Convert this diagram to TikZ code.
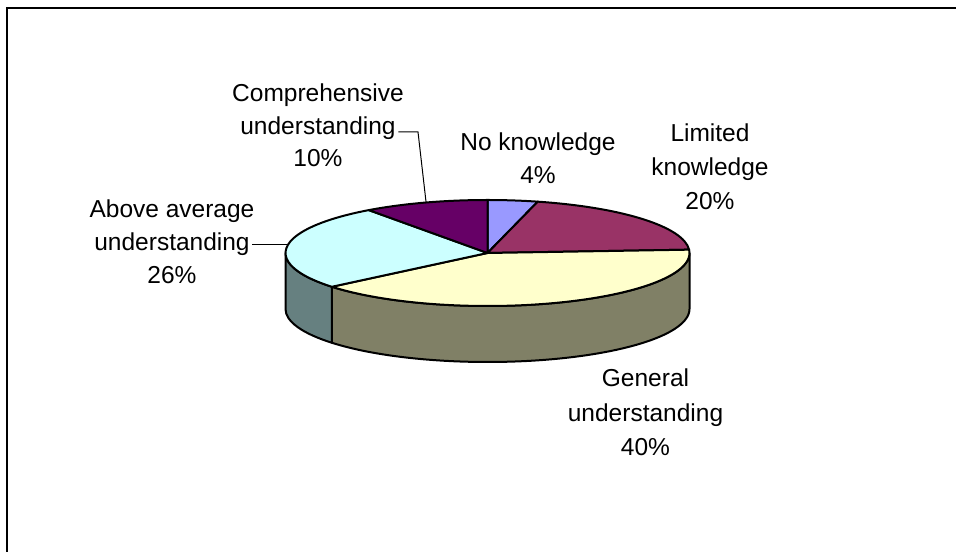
\documentclass[tikz,border=0pt]{standalone}
\usepackage{fontspec}
\setmainfont{Liberation Sans}
\usetikzlibrary{calc}
\definecolor{cNo}{HTML}{9999FF}
\definecolor{cLim}{HTML}{993366}
\definecolor{cGen}{HTML}{FFFFCC}
\definecolor{cGenS}{HTML}{808066}
\definecolor{cAbv}{HTML}{CCFFFF}
\definecolor{cAbvS}{HTML}{668080}
\definecolor{cComp}{HTML}{660066}
\begin{document}
\begin{tikzpicture}[x=0.5pt,y=0.5pt,
  lbl/.style={inner sep=1.2pt, font=\fontsize{12.25}{15}\selectfont, anchor=base},
  slice/.style={draw=black, line width=1pt, line join=round},
  leader/.style={draw=black, line width=0.5pt},
  er/.style={x radius=202, y radius=53}]
\useasboundingbox (0,0) rectangle (956,551);
\fill[white] (0,0) rectangle (956,551);
\draw[line width=1.15pt] (7,-5) -- (7,543) -- (965,543);

\coordinate (C) at (487.5,298);

% sides
\path[slice, fill=cGenS] ($(C)+(0:202 and 53)$) arc[start angle=0, end angle=-140.4, er]
  -- ++(0,-56) arc[start angle=-140.4, end angle=0, er] -- cycle;
\path[slice, fill=cAbvS] ($(C)+(-140.4:202 and 53)$) arc[start angle=-140.4, end angle=-180, er]
  -- ++(0,-56) arc[start angle=-180, end angle=-140.4, er] -- cycle;

% top faces
\path[slice, fill=cNo] (C) -- ($(C)+(90:202 and 53)$) arc[start angle=90, end angle=75.6, er] -- cycle;
\path[slice, fill=cLim] (C) -- ($(C)+(75.6:202 and 53)$) arc[start angle=75.6, end angle=3.6, er] -- cycle;
\path[slice, fill=cGen] (C) -- ($(C)+(3.6:202 and 53)$) arc[start angle=3.6, end angle=-140.4, er] -- cycle;
\path[slice, fill=cAbv] (C) -- ($(C)+(-140.4:202 and 53)$) arc[start angle=-140.4, end angle=-234, er] -- cycle;
\path[slice, fill=cComp] (C) -- ($(C)+(-234:202 and 53)$) arc[start angle=-234, end angle=-270, er] -- cycle;

% labels
\node[lbl] (comp1) at (318,449) {Comprehensive};
\node[lbl] (comp2) at (318,416) {understanding};
\node[lbl] (comp3) at (318,384) {10\%};

\node[lbl] (no1) at (538,400) {No knowledge};
\node[lbl] (no2) at (538,367) {4\%};

\node[lbl] (lim1) at (710,409) {Limited};
\node[lbl] (lim2) at (710,375) {knowledge};
\node[lbl] (lim3) at (710,341) {20\%};

\node[lbl] (gen1) at (645.5,164) {General};
\node[lbl] (gen2) at (645.5,130) {understanding};
\node[lbl] (gen3) at (645.5,96) {40\%};

\node[lbl] (aa1) at (172,333) {Above average};
\node[lbl] (aa2) at (172,300) {understanding};
\node[lbl] (aa3) at (172,267) {26\%};

% leaders
\coordinate (pAA) at ($(C)+(169:202 and 53)$);
\draw[leader] (aa2.east) -- (aa2.east -| pAA);
\coordinate (cE) at (418,419);
\coordinate (pC) at ($(C)+(107.7:202 and 53)$);
\draw[leader] (comp2.east |- cE) -- (cE) -- (pC);
\end{tikzpicture}
\end{document}
